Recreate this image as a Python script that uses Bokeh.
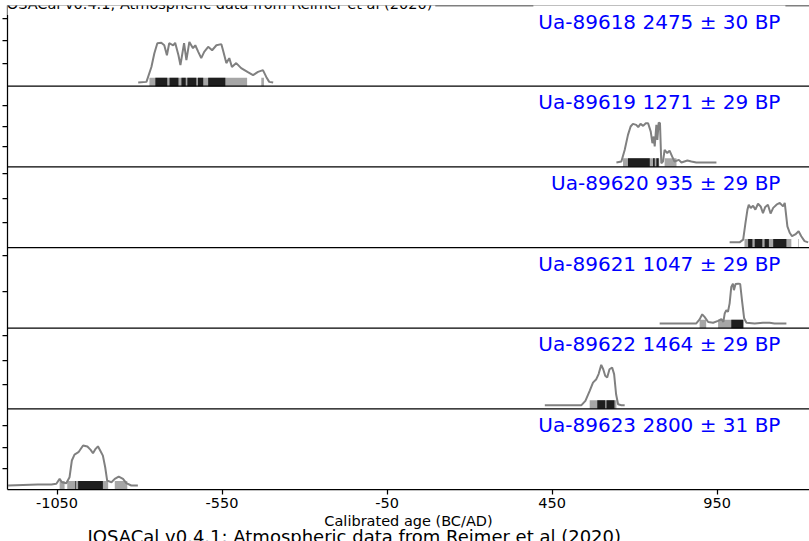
from bokeh.plotting import figure
from bokeh.models import Range1d, FixedTicker, Label, Span, CustomLabelingPolicy, Title
from bokeh.embed import file_html
from bokeh.resources import INLINE

# ---------------- data ----------------
sample_labels = ["Ua-89618 2475 ± 30 BP", "Ua-89619 1271 ± 29 BP", "Ua-89620 935 ± 29 BP",
                 "Ua-89621 1047 ± 29 BP", "Ua-89622 1464 ± 29 BP", "Ua-89623 2800 ± 31 BP"]

# upper y limit of each panel (probability density, tick units)
ylim_top = [3.57, 3.96, 3.28, 2.21, 3.32, 3.81]
ytick_values = [1, 2, 3]

xtick_values = [-1050, -550, -50, 450, 950]
xtick_labels = ["-1050", "-550", "-50", "450", "950"]

ua89618_age = [-804, -779, -764, -755, -746, -734, -725, -717, -710, -698, -692, -682, -676, -665, -658,
               -649, -638, -631, -622, -613, -604, -592, -580, -567, -552, -547, -537, -528, -520, -507,
               -492, -473, -456, -441, -426, -416, -407, -395]
ua89618_prob = [0.16, 0.19, 0.85, 1.46, 1.90, 1.92, 1.81, 1.37, 1.90, 1.81, 1.92, 1.37, 0.93, 1.90, 1.15,
                1.96, 1.68, 1.81, 1.52, 1.24, 1.52, 1.74, 1.59, 1.81, 1.86, 1.59, 1.02, 1.24, 0.85, 1.02,
                0.80, 0.63, 0.49, 0.63, 0.71, 0.41, 0.19, 0.16]
ua89618_hpd95 = [(-770, -474), (-431, -423)]
ua89618_hpd68 = [(-752, -716), (-709, -682), (-673, -660), (-655, -628), (-623, -607), (-592, -540)]

ua89619_age = [645, 660, 670, 680, 688, 695, 705, 711, 718, 726, 734, 741, 749, 754, 758, 761, 766, 769,
               773, 777, 781, 786, 791, 799, 806, 814, 821, 834, 842, 860, 872, 887, 948]
ua89619_prob = [0.21, 0.26, 0.83, 1.57, 1.98, 2.11, 2.06, 1.95, 2.11, 2.01, 2.14, 2.14, 1.73, 1.16, 1.49,
                1.00, 2.06, 1.32, 2.17, 2.14, 0.18, 0.26, 0.83, 0.67, 0.80, 0.50, 0.26, 0.34, 0.21, 0.31,
                0.26, 0.21, 0.21]
ua89619_hpd95 = [(665, 775), (791, 827)]
ua89619_hpd68 = [(680, 746), (756, 761), (766, 773)]

ua89620_age = [988, 1018, 1029, 1036, 1042, 1046, 1052, 1059, 1066, 1074, 1082, 1089, 1096, 1104, 1112,
               1120, 1130, 1140, 1150, 1155, 1163, 1170, 1177, 1187, 1197, 1205, 1215, 1226]
ua89620_prob = [0.21, 0.21, 0.32, 1.00, 1.54, 1.74, 1.61, 1.70, 1.54, 1.78, 1.67, 1.40, 1.65, 1.74, 1.38,
                1.61, 1.74, 1.81, 1.67, 1.81, 0.86, 0.60, 0.46, 0.53, 0.66, 0.46, 0.26, 0.21]
ua89620_hpd95 = [(1033, 1175), (1196, 1198)]
ua89620_hpd68 = [(1044, 1057), (1064, 1087), (1094, 1107), (1120, 1160)]

ua89621_age = [776, 887, 897, 905, 912, 923, 938, 953, 963, 969, 973, 978, 983, 988, 993, 998, 1001, 1006,
               1014, 1020, 1026, 1032, 1039, 1064, 1089, 1109, 1124, 1160]
ua89621_prob = [0.13, 0.13, 0.24, 0.38, 0.31, 0.17, 0.15, 0.20, 0.25, 0.17, 0.40, 0.49, 0.45, 0.68, 1.13,
                1.22, 1.04, 1.21, 1.22, 1.21, 0.72, 0.27, 0.15, 0.13, 0.15, 0.15, 0.13, 0.13]
ua89621_hpd95 = [(897, 917), (953, 1031)]
ua89621_hpd68 = [(993, 1029)]

ua89622_age = [428, 539, 551, 564, 574, 584, 591, 599, 605, 611, 617, 624, 632, 638, 644, 650, 660, 670]
ua89622_prob = [0.15, 0.15, 0.33, 0.74, 1.08, 1.22, 1.43, 1.81, 1.63, 1.36, 1.29, 1.63, 1.70, 1.43, 0.60,
                0.19, 0.15, 0.15]
ua89622_hpd95 = [(564, 645)]
ua89622_hpd68 = [(587, 611), (615, 639)]

ua89623_age = [-1198, -1108, -1067, -1052, -1042, -1035, -1022, -1012, -1005, -997, -985, -971, -958, -948,
               -941, -933, -926, -918, -911, -904, -898, -885, -875, -863, -850, -840, -825, -805]
ua89623_prob = [0.19, 0.24, 0.24, 0.27, 0.50, 0.34, 0.30, 0.58, 1.37, 1.65, 1.76, 2.08, 2.03, 1.87, 1.71,
                1.92, 2.04, 1.81, 1.60, 1.05, 0.42, 0.34, 0.50, 0.61, 0.50, 0.30, 0.19, 0.19]
ua89623_hpd95 = [(-1042, -1027), (-1019, -895), (-875, -837)]
ua89623_hpd68 = [(-995, -993), (-986, -911)]

title_text = "IOSACal v0.4.1; Atmospheric data from Reimer et al (2020)"
x_label = "Calibrated age (BC/AD)"

panels = [
    (ua89618_age, ua89618_prob, ua89618_hpd95, ua89618_hpd68),
    (ua89619_age, ua89619_prob, ua89619_hpd95, ua89619_hpd68),
    (ua89620_age, ua89620_prob, ua89620_hpd95, ua89620_hpd68),
    (ua89621_age, ua89621_prob, ua89621_hpd95, ua89621_hpd68),
    (ua89622_age, ua89622_prob, ua89622_hpd95, ua89622_hpd68),
    (ua89623_age, ua89623_prob, ua89623_hpd95, ua89623_hpd68),
]

# ---------------- style ----------------
FONT = "DejaVu Sans"
CURVE = "#808080"
GREY = "#a6a6a6"
DARK = "#1e1e1e"
BAR_FRAC = 0.105
N = len(panels)

p = figure(width=809, height=541, x_range=Range1d(-1200, 1230), y_range=Range1d(0, N),
           output_backend="svg", toolbar_location=None,
           min_border_left=7, min_border_right=0, min_border_top=5, min_border_bottom=52)
p.outline_line_color = None
p.xgrid.visible = False
p.ygrid.visible = False
p.background_fill_color = "white"
p.border_fill_color = "white"

# top spine (drawn first so the text boxes can hide it)
p.add_layout(Span(location=N, dimension="width", line_color="black", line_width=1.25))

ytick_pos = []
for k, (age, prob, hpd95, hpd68) in enumerate(panels):
    j = N - 1 - k
    E = ylim_top[k]
    name = f"s{k}"
    p.extra_y_ranges[name] = Range1d(start=-j * E, end=(N - j) * E)
    bh = BAR_FRAC * E
    p.quad(left=[a for a, b in hpd95], right=[b for a, b in hpd95], bottom=0, top=bh,
           y_range_name=name, fill_color=GREY, line_color=None)
    p.quad(left=[a for a, b in hpd68], right=[b for a, b in hpd68], bottom=0, top=bh,
           y_range_name=name, fill_color=DARK, line_color=None)
    p.line(age, prob, y_range_name=name, line_color=CURVE, line_width=2)
    ytick_pos += [j + t / E for t in ytick_values if t < E]
    lab = Label(x=1157, y=j + 1, y_offset=1, text=sample_labels[k], text_align="right",
                text_baseline="top", text_color="blue", text_font=FONT,
                text_font_size="20px", padding=5)
    if k == 0:
        lab.background_fill_color = "white"
    p.add_layout(lab)

# title at the top edge, as in the source image (only its lower part shows)
p.add_layout(Label(x=-1200, y=N, x_offset=-8, y_offset=1.5, text=title_text, text_align="left",
                   text_baseline="alphabetic", text_color="black", text_font=FONT,
                   text_font_size="14.5px", background_fill_color="white", padding=3))

# panel separators
for j in range(1, N):
    p.add_layout(Span(location=j, dimension="width", line_color="black", line_width=1.25))

# axes
p.yaxis.ticker = FixedTicker(ticks=ytick_pos, minor_ticks=[])
p.yaxis.major_label_text_font_size = "0px"
p.yaxis.major_label_standoff = 0
p.yaxis.major_label_policy = CustomLabelingPolicy(
    code="for (let i = 0; i < indices.size; i++) { indices.unset(i) } return indices")
p.yaxis.major_tick_out = 5
p.yaxis.major_tick_in = 0
p.yaxis.minor_tick_line_color = None
p.yaxis.axis_line_width = 1.25
p.yaxis.major_tick_line_width = 1.25
p.yaxis.axis_line_color = "black"
p.yaxis.major_tick_line_color = "black"

p.xaxis.ticker = FixedTicker(ticks=xtick_values, minor_ticks=[])
p.xaxis.major_label_overrides = {v: s for v, s in zip(xtick_values, xtick_labels)}
p.xaxis.major_label_text_font = FONT
p.xaxis.major_label_text_font_size = "14.5px"
p.xaxis.major_label_text_color = "black"
p.xaxis.major_label_standoff = 3
p.xaxis.major_tick_out = 5
p.xaxis.major_tick_in = 0
p.xaxis.minor_tick_line_color = None
p.xaxis.axis_line_width = 1.25
p.xaxis.major_tick_line_width = 1.25
p.xaxis.axis_line_color = "black"
p.xaxis.major_tick_line_color = "black"
p.xaxis.axis_label = x_label
p.xaxis.axis_label_text_font = FONT
p.xaxis.axis_label_text_font_size = "14.5px"
p.xaxis.axis_label_text_font_style = "normal"
p.xaxis.axis_label_text_color = "black"
p.xaxis.axis_label_standoff = 2

# footer below the axis, running off the bottom edge as in the source image
p.add_layout(Title(text=title_text, align="left", offset=80, vertical_align="bottom", standoff=-15,
                   text_font=FONT, text_font_size="18px", text_font_style="normal",
                   text_color="black"), "below")

open("out.html", "w").write(file_html(p, INLINE))
